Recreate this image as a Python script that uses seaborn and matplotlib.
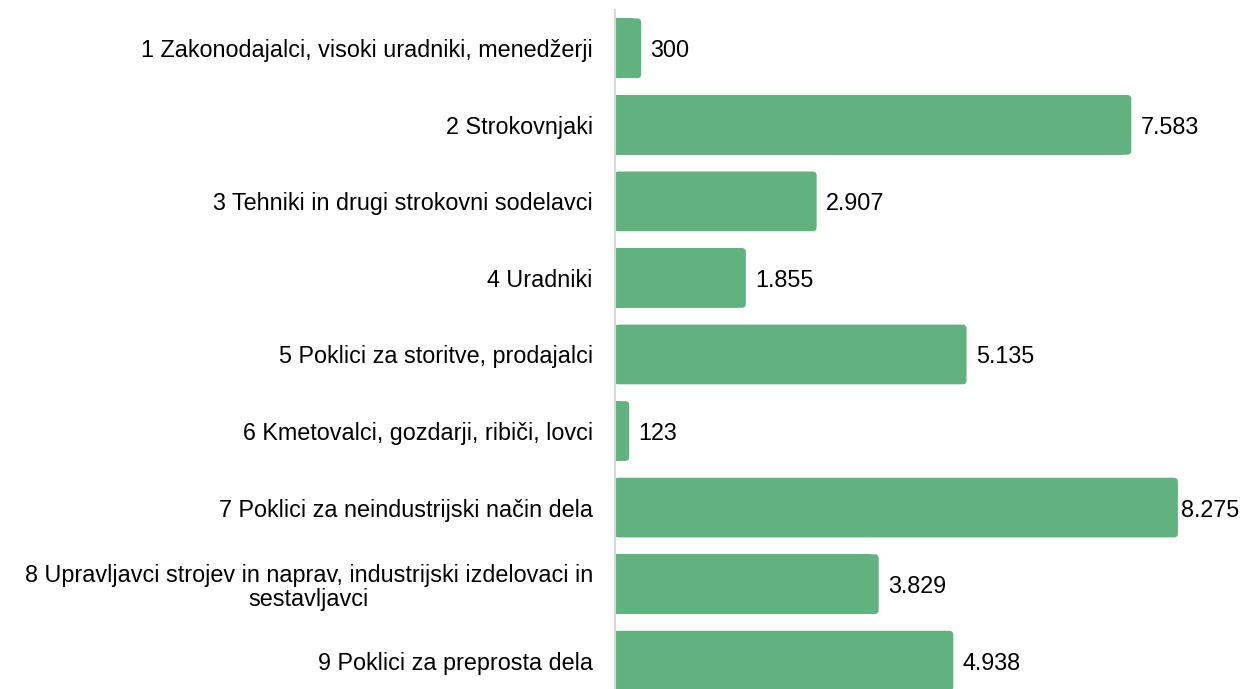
import matplotlib
matplotlib.use("Agg")
import matplotlib.pyplot as plt
from matplotlib.patches import FancyBboxPatch
import seaborn as sns
import pandas as pd

categories = [
    "1 Zakonodajalci, visoki uradniki, menedžerji",
    "2 Strokovnjaki",
    "3 Tehniki in drugi strokovni sodelavci",
    "4 Uradniki",
    "5 Poklici za storitve, prodajalci",
    "6 Kmetovalci, gozdarji, ribiči, lovci",
    "7 Poklici za neindustrijski način dela",
    "8 Upravljavci strojev in naprav, industrijski izdelovaci in\nsestavljavci",
    "9 Poklici za preprosta dela",
]
values = [300, 7583, 2907, 1855, 5135, 123, 8275, 3829, 4938]

BAR_COLOR = "#62B27F"
df = pd.DataFrame({"cat": categories, "val": values})

sns.set_style("white")
plt.rcParams["font.family"] = ["Liberation Sans", "DejaVu Sans"]

fig = plt.figure(figsize=(12.44, 6.89), dpi=100)
ax = fig.add_axes([615 / 1244, 0.0, 1 - 615 / 1244, 679 / 689])

sns.barplot(data=df, x="val", y="cat", color=BAR_COLOR, width=0.78,
            saturation=1, ax=ax, orient="h")

# bars start a few px before zero at the axis line (as in the source chart)
x_left = -89
ax.set_xlim(x_left, 9257)
ax.set_ylim(8.37, -0.5)

# rounded right corners: shorten the square bar, add a rounded box on top
r_x = 60
r_aspect = 0.052 / r_x
for p in list(ax.patches):
    y0, h = p.get_y(), p.get_height()
    w = p.get_width() - x_left
    p.set_x(x_left)
    p.set_width(w - 2 * r_x)
    p.set_edgecolor("none")
    rb = FancyBboxPatch((x_left, y0), w, h,
                        boxstyle=f"round,pad=0,rounding_size={r_x}",
                        mutation_aspect=r_aspect,
                        facecolor=BAR_COLOR, edgecolor="none", zorder=p.get_zorder())
    ax.add_patch(rb)

vmax = max(values)
for i, v in enumerate(values):
    off = 2.5 if v == vmax else 6.5  # the longest label is squeezed to fit
    ax.annotate(f"{v:,}".replace(",", "."), xy=(v, i), xytext=(off, 0),
                textcoords="offset points", va="center_baseline", ha="left",
                fontsize=16.8, color="black", annotation_clip=False)

ax.set_xlabel("")
ax.set_ylabel("")
ax.set_xticks([])
ax.tick_params(axis="y", length=0, pad=16, labelsize=16.8, labelcolor="black")

for s in ["top", "right", "bottom"]:
    ax.spines[s].set_visible(False)
ax.spines["left"].set_position(("data", x_left))
ax.spines["left"].set_color("#D9D9D9")
ax.spines["left"].set_linewidth(1.5)

fig.canvas.draw()
for lab in ax.get_yticklabels():
    lab.set_multialignment("center")
    lab.set_linespacing(1.1)

fig.savefig("out.png", dpi=100)
